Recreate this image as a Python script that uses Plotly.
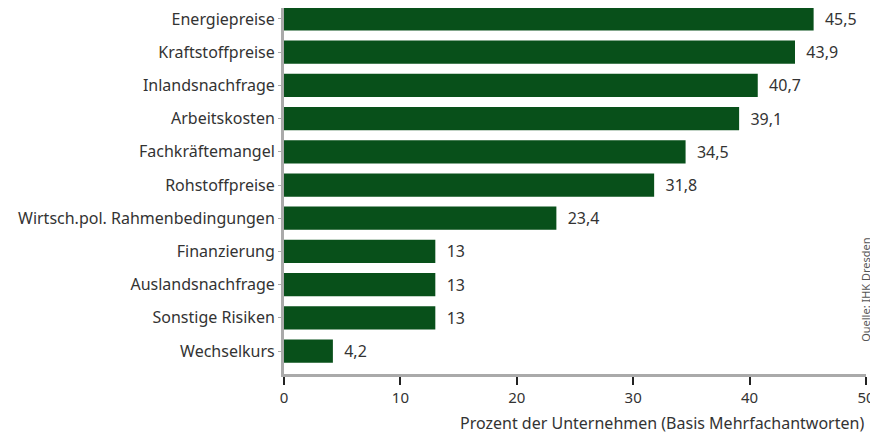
import plotly.graph_objects as go

categories = [
    "Energiepreise",
    "Kraftstoffpreise",
    "Inlandsnachfrage",
    "Arbeitskosten",
    "Fachkräftemangel",
    "Rohstoffpreise",
    "Wirtsch.pol. Rahmenbedingungen",
    "Finanzierung",
    "Auslandsnachfrage",
    "Sonstige Risiken",
    "Wechselkurs",
]
values = [45.5, 43.9, 40.7, 39.1, 34.5, 31.8, 23.4, 13, 13, 13, 4.2]
x_ticks = [0, 10, 20, 30, 40, 50]

FONT = "Noto Sans"
GREEN = "#08501a"
TEXT = "#333333"

# plotly draws the first category at the bottom, so reverse
cats = categories[::-1]
vals = values[::-1]
labels = ["  " + f"{v:g}".replace(".", ",") for v in vals]

fig = go.Figure(
    go.Bar(
        x=vals,
        y=cats,
        orientation="h",
        marker=dict(color=GREEN, line=dict(width=0)),
        width=0.7,
        text=labels,
        textposition="outside",
        textfont=dict(family=FONT, size=16, color=TEXT),
        cliponaxis=False,
        hoverinfo="skip",
    )
)

# page body has an 8px margin, so the figure is a bit smaller than the window
fig.update_layout(
    width=870,
    height=427,
    margin=dict(l=276, r=12, t=0, b=61),
    paper_bgcolor="white",
    plot_bgcolor="white",
    showlegend=False,
    font=dict(family=FONT, size=15, color=TEXT),
)

fig.update_xaxes(
    range=[0, 50],
    tickvals=x_ticks,
    automargin=False,
    showgrid=False,
    zeroline=False,
    showline=True,
    linecolor="#aaaaaa",
    linewidth=3,
    ticks="outside",
    ticklen=8,
    tickwidth=2,
    tickcolor="#222222",
    tickfont=dict(family=FONT, size=15, color=TEXT),
)

fig.update_yaxes(
    range=[-0.69, 10.33],
    automargin=False,
    showgrid=False,
    zeroline=False,
    showline=True,
    linecolor="#aaaaaa",
    linewidth=3,
    ticks="outside",
    ticklen=3,
    tickcolor="#aaaaaa",
    tickfont=dict(family=FONT, size=16, color=TEXT),
    ticklabelstandoff=0,
)

fig.add_annotation(
    text="Prozent der Unternehmen (Basis Mehrfachantworten)",
    xref="paper", yref="paper",
    x=1, y=-0.134,
    xanchor="right", yanchor="middle",
    showarrow=False,
    font=dict(family=FONT, size=16, color=TEXT),
)

fig.add_annotation(
    text="Quelle: IHK Dresden",
    xref="paper", yref="paper",
    x=1.0, y=0.23,
    xanchor="center", yanchor="middle",
    textangle=-90,
    showarrow=False,
    font=dict(family=FONT, size=11, color="#555555"),
)

fig.write_html("out.html")
